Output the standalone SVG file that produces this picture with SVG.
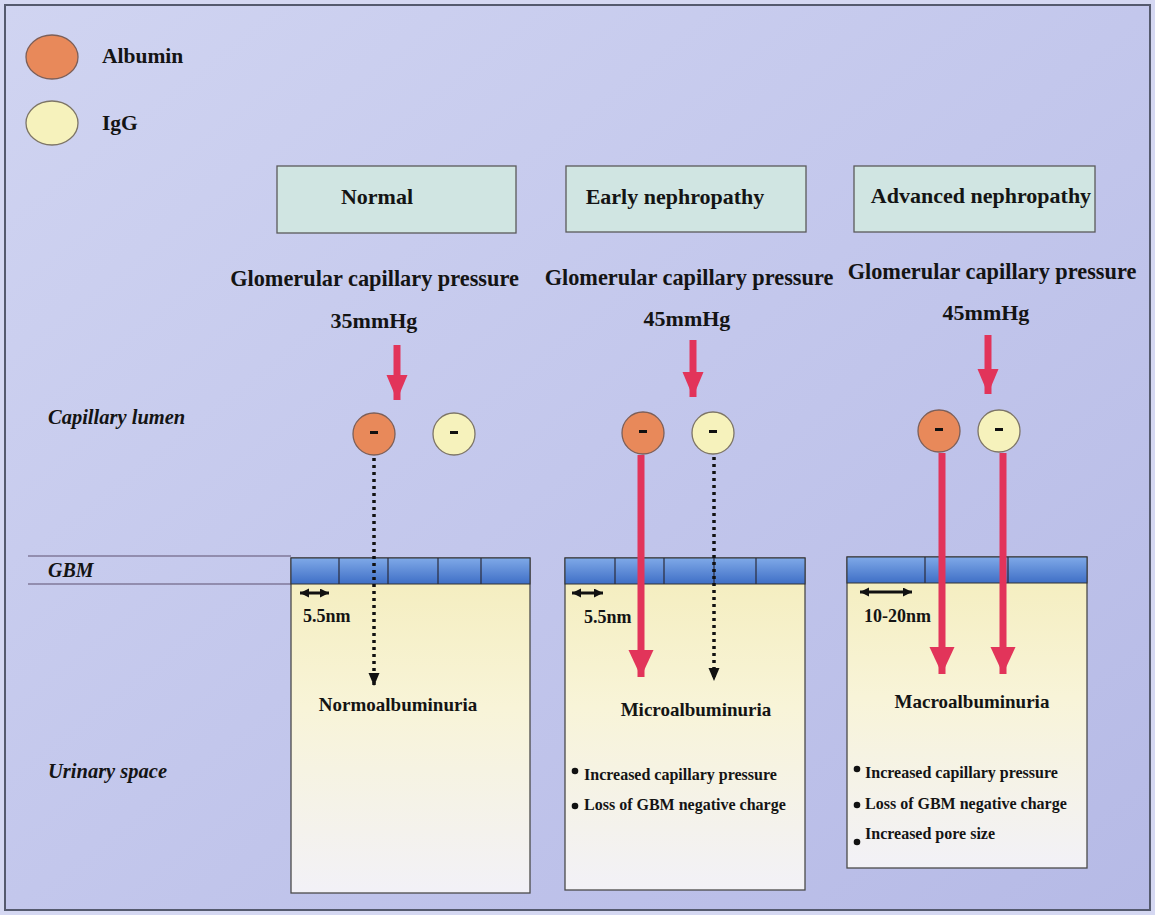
<svg xmlns="http://www.w3.org/2000/svg" width="1155" height="915" viewBox="0 0 1155 915">
<defs>
<linearGradient id="bg" x1="0" y1="0" x2="1" y2="1">
<stop offset="0" stop-color="#d0d4f1"/>
<stop offset="0.5" stop-color="#c3c7ec"/>
<stop offset="1" stop-color="#b6bae6"/>
</linearGradient>
<linearGradient id="gbm" x1="0" y1="0" x2="0" y2="1">
<stop offset="0" stop-color="#7fa9e8"/>
<stop offset="1" stop-color="#3f6fc6"/>
</linearGradient>
<linearGradient id="urin" x1="0" y1="0" x2="0" y2="1">
<stop offset="0" stop-color="#f4edbc"/>
<stop offset="0.45" stop-color="#f8f4d8"/>
<stop offset="1" stop-color="#f2f1f7"/>
</linearGradient>
<marker id="redHead" markerUnits="userSpaceOnUse" markerWidth="28" markerHeight="26" refX="27" refY="12.5" orient="auto">
<path d="M0,0 L27,12.5 L0,25 z" fill="#e2345a"/>
</marker>
<marker id="redHeadS" markerUnits="userSpaceOnUse" markerWidth="26" markerHeight="22" refX="25" refY="10.5" orient="auto">
<path d="M0,0 L25,10.5 L0,21 z" fill="#e2345a"/>
</marker>
<marker id="blkHead" markerUnits="userSpaceOnUse" markerWidth="14" markerHeight="12" refX="13" refY="5.5" orient="auto">
<path d="M0,0 L13,5.5 L0,11 z" fill="#111"/>
</marker>
<marker id="dblEnd" markerUnits="userSpaceOnUse" markerWidth="10" markerHeight="10" refX="9" refY="4.5" orient="auto-start-reverse">
<path d="M0,0 L9,4.5 L0,9 z" fill="#111"/>
</marker>
<style>
.t{font-family:"Liberation Serif","Times New Roman",serif;font-weight:bold;fill:#141414}
.it{font-style:italic}
.hdr{fill:#d0e5e2;stroke:#5a5a5a;stroke-width:1.3}
.alb{fill:#e8895a;stroke:#7d5f58;stroke-width:1.3}
.igg{fill:#f6f2bc;stroke:#7d7566;stroke-width:1.3}
.panel{fill:url(#urin);stroke:#4a4a4a;stroke-width:1.3}
.band{fill:url(#gbm);stroke:#333;stroke-width:1}
.div{stroke:#2a2a3a;stroke-width:1.2}
.red{stroke:#e2345a;stroke-width:7;fill:none}
.dot{stroke:#111;stroke-width:3.5;stroke-dasharray:3 4;fill:none}
.scale{stroke:#111;stroke-width:3;fill:none}
.minus{fill:#111}
.bul{fill:#111}
</style>
</defs>

<rect x="0" y="0" width="1155" height="915" fill="#d5d8f2"/>
<rect x="5" y="5" width="1145" height="905" fill="url(#bg)" stroke="#555a6e" stroke-width="2"/>

<g id="legend">
<ellipse class="alb" cx="52" cy="57" rx="26" ry="22"/>
<text class="t" x="102" y="63" font-size="21.5">Albumin</text>
<ellipse class="igg" cx="52" cy="123" rx="26" ry="22"/>
<text class="t" x="102" y="130" font-size="21.5">IgG</text>
</g>

<g id="side-labels">
<text class="t it" x="48" y="424" font-size="20.5">Capillary lumen</text>
<line x1="28" y1="556" x2="291" y2="556" stroke="#5e5070" stroke-width="1.2"/>
<line x1="28" y1="584" x2="291" y2="584" stroke="#5e5070" stroke-width="1.2"/>
<text class="t it" x="48" y="577" font-size="20">GBM</text>
<text class="t it" x="48" y="778" font-size="20.5">Urinary space</text>
</g>

<g id="normal">
<rect class="hdr" x="277" y="166" width="239" height="67"/>
<text class="t" x="377" y="204" font-size="22" text-anchor="middle">Normal</text>
<text class="t" x="374.5" y="286" font-size="22.3" text-anchor="middle">Glomerular capillary pressure</text>
<text class="t" x="374" y="328" font-size="22" text-anchor="middle">35mmHg</text>
<circle class="alb" cx="374" cy="434" r="21"/>
<rect class="minus" x="370" y="431" width="8" height="3"/>
<circle class="igg" cx="454" cy="434" r="21"/>
<rect class="minus" x="450" y="431" width="8" height="3"/>
<rect class="panel" x="291" y="558" width="239" height="335"/>
<rect class="band" x="291" y="558" width="239" height="26"/>
<line class="div" x1="339" y1="558" x2="339" y2="584"/>
<line class="div" x1="388" y1="558" x2="388" y2="584"/>
<line class="div" x1="438" y1="558" x2="438" y2="584"/>
<line class="div" x1="481" y1="558" x2="481" y2="584"/>
<text class="t" x="303" y="622" font-size="18">5.5nm</text>
<text class="t" x="398" y="711" font-size="19" text-anchor="middle">Normoalbuminuria</text>
</g>

<g id="early">
<rect class="hdr" x="566" y="166" width="240" height="66"/>
<text class="t" x="675" y="204" font-size="22" text-anchor="middle">Early nephropathy</text>
<text class="t" x="689" y="285" font-size="22.3" text-anchor="middle">Glomerular capillary pressure</text>
<text class="t" x="687" y="326" font-size="22" text-anchor="middle">45mmHg</text>
<circle class="alb" cx="643" cy="433" r="21"/>
<rect class="minus" x="639" y="430" width="8" height="3"/>
<circle class="igg" cx="713" cy="433" r="21"/>
<rect class="minus" x="709" y="430" width="8" height="3"/>
<rect class="panel" x="565" y="558" width="240" height="332"/>
<rect class="band" x="565" y="558" width="240" height="26"/>
<line class="div" x1="615" y1="558" x2="615" y2="584"/>
<line class="div" x1="664" y1="558" x2="664" y2="584"/>
<line class="div" x1="714" y1="558" x2="714" y2="584"/>
<line class="div" x1="756" y1="558" x2="756" y2="584"/>
<text class="t" x="584" y="623" font-size="18">5.5nm</text>
<text class="t" x="696" y="716" font-size="19" text-anchor="middle">Microalbuminuria</text>
<circle class="bul" cx="575" cy="771" r="3.3"/>
<text class="t" x="584" y="780" font-size="16">Increased capillary pressure</text>
<circle class="bul" cx="575" cy="806" r="3.3"/>
<text class="t" x="584" y="810" font-size="16">Loss of GBM negative charge</text>
</g>

<g id="advanced">
<rect class="hdr" x="854" y="166" width="241" height="66"/>
<text class="t" x="981" y="203" font-size="22" text-anchor="middle">Advanced nephropathy</text>
<text class="t" x="992" y="279" font-size="22.3" text-anchor="middle">Glomerular capillary pressure</text>
<text class="t" x="986" y="320" font-size="22" text-anchor="middle">45mmHg</text>
<circle class="alb" cx="939" cy="431" r="21"/>
<rect class="minus" x="935" y="428" width="8" height="3"/>
<circle class="igg" cx="999" cy="431" r="21"/>
<rect class="minus" x="995" y="428" width="8" height="3"/>
<rect class="panel" x="847" y="557" width="240" height="311"/>
<rect class="band" x="847" y="557" width="240" height="26"/>
<line class="div" x1="925" y1="557" x2="925" y2="583"/>
<line class="div" x1="1008" y1="557" x2="1008" y2="583"/>
<text class="t" x="864" y="622" font-size="18">10-20nm</text>
<text class="t" x="972" y="708" font-size="19" text-anchor="middle">Macroalbuminuria</text>
<circle class="bul" cx="857" cy="769" r="3.3"/>
<text class="t" x="865" y="778" font-size="16">Increased capillary pressure</text>
<circle class="bul" cx="857" cy="805" r="3.3"/>
<text class="t" x="865" y="809" font-size="16">Loss of GBM negative charge</text>
<circle class="bul" cx="857" cy="842" r="3.3"/>
<text class="t" x="865" y="839" font-size="16">Increased pore size</text>
</g>

<g id="connectors">
<line class="red" x1="397" y1="345" x2="397" y2="400" marker-end="url(#redHeadS)"/>
<line class="red" x1="693" y1="340" x2="693" y2="397" marker-end="url(#redHeadS)"/>
<line class="red" x1="988" y1="335" x2="988" y2="394" marker-end="url(#redHeadS)"/>
<line class="dot" x1="374" y1="458" x2="374" y2="686" marker-end="url(#blkHead)"/>
<line class="red" x1="641" y1="455" x2="641" y2="677" marker-end="url(#redHead)"/>
<line class="dot" x1="714" y1="457" x2="714" y2="681" marker-end="url(#blkHead)"/>
<line class="red" x1="942" y1="453" x2="942" y2="674" marker-end="url(#redHead)"/>
<line class="red" x1="1003" y1="453" x2="1003" y2="674" marker-end="url(#redHead)"/>
<line class="scale" x1="300" y1="593" x2="329" y2="593" marker-start="url(#dblEnd)" marker-end="url(#dblEnd)"/>
<line class="scale" x1="572" y1="593" x2="603" y2="593" marker-start="url(#dblEnd)" marker-end="url(#dblEnd)"/>
<line class="scale" x1="860" y1="592" x2="912" y2="592" marker-start="url(#dblEnd)" marker-end="url(#dblEnd)"/>
</g>
</svg>
